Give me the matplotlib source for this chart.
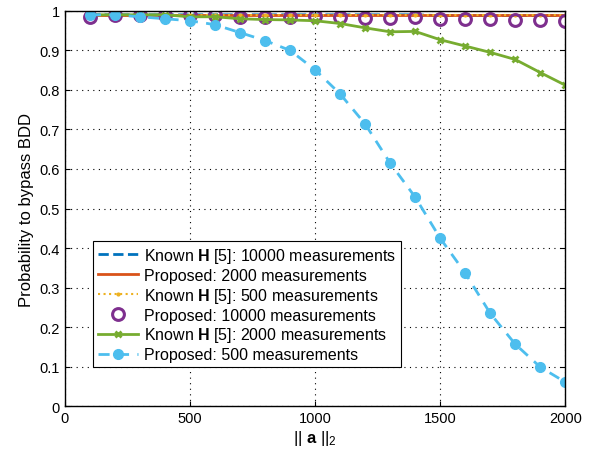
import matplotlib
matplotlib.use("Agg")
import matplotlib.pyplot as plt
import numpy as np

plt.rcParams['font.family'] = ['Liberation Sans', 'DejaVu Sans']
plt.rcParams['mathtext.fontset'] = 'custom'
plt.rcParams['mathtext.rm'] = 'Liberation Sans'
plt.rcParams['mathtext.bf'] = 'Liberation Sans:bold'
plt.rcParams['mathtext.it'] = 'Liberation Sans:italic'

# data
norm_a = [100, 200, 300, 400, 500, 600, 700, 800, 900, 1000,
          1100, 1200, 1300, 1400, 1500, 1600, 1700, 1800, 1900, 2000]
known_10000 = [0.99, 0.99, 0.99, 0.99, 0.99, 0.99, 0.99, 0.99, 0.99, 0.99,
               0.99, 0.99, 0.99, 0.99, 0.988, 0.988, 0.988, 0.988, 0.988, 0.988]
prop_2000 = [0.99, 0.99, 0.99, 0.99, 0.99, 0.99, 0.99, 0.99, 0.99, 0.99,
             0.99, 0.99, 0.99, 0.99, 0.99, 0.99, 0.99, 0.99, 0.99, 0.99]
known_500 = [0.99, 0.99, 0.99, 0.99, 0.99, 0.99, 0.99, 0.99, 0.99, 0.99,
             0.99, 0.99, 0.99, 0.99, 0.99, 0.99, 0.99, 0.99, 0.99, 0.99]
prop_10000 = [0.985, 0.99, 0.99, 0.99, 0.99, 0.99, 0.985, 0.985, 0.985, 0.988,
              0.985, 0.982, 0.982, 0.984, 0.98, 0.98, 0.98, 0.977, 0.977, 0.975]
known_2000 = [0.99, 0.99, 0.99, 0.99, 0.985, 0.985, 0.98, 0.978, 0.977, 0.975,
              0.968, 0.957, 0.947, 0.948, 0.927, 0.911, 0.895, 0.877, 0.844, 0.812]
prop_500 = [0.99, 0.99, 0.985, 0.98, 0.975, 0.965, 0.945, 0.925, 0.90, 0.851,
            0.79, 0.714, 0.615, 0.529, 0.425, 0.337, 0.235, 0.157, 0.099, 0.061]

fig = plt.figure(figsize=(5.95, 4.56), dpi=100)
ax = fig.add_axes([0.109, 0.107, 0.841, 0.867])

ax.plot(norm_a, known_10000, '--', color='#0072BD', lw=2,
        label=r'Known $\mathbf{H}$ [5]: 10000 measurements')
ax.plot(norm_a, prop_2000, '-', color='#D95319', lw=2,
        label='Proposed: 2000 measurements')
ax.plot(norm_a, known_500, ':', color='#EDB120', lw=1.5, marker='.', ms=4,
        label=r'Known $\mathbf{H}$ [5]: 500 measurements')
ax.plot(norm_a, prop_10000, 'o', color='#7E2F8E', mfc='none', mew=2.2, ms=8.5,
        label='Proposed: 10000 measurements')
ax.plot(norm_a, known_2000, '-', color='#77AC30', lw=2, marker='x', mew=2, ms=5,
        label=r'Known $\mathbf{H}$ [5]: 2000 measurements')
ax.plot(norm_a, prop_500, '--', color='#4DBEEE', lw=2, marker='o', ms=7,
        dashes=(4, 3), label='Proposed: 500 measurements')

ax.set_xlim(0, 2000)
ax.set_ylim(0, 1)
ax.set_xticks(np.arange(0, 2001, 500))
ax.set_yticks(np.arange(0, 1.01, 0.1))
ax.set_yticklabels(['0', '0.1', '0.2', '0.3', '0.4', '0.5', '0.6', '0.7', '0.8', '0.9', '1'])
ax.tick_params(direction='in', top=True, right=True, labelsize=10.5)
ax.grid(True, linestyle=(0, (1, 4)), color='k', lw=0.8)
for s in ax.spines.values():
    s.set_linewidth(1)

ax.set_xlabel(r'$||\ \mathbf{a}\ ||_2$', fontsize=12, labelpad=2)
ax.set_ylabel('Probability to bypass BDD', fontsize=12)

leg = ax.legend(loc='lower left', bbox_to_anchor=(0.056, 0.099), fontsize=11.5,
                fancybox=False, edgecolor='k', framealpha=1,
                handlelength=2.5, borderpad=0.3, labelspacing=0.18,
                handletextpad=0.4, borderaxespad=0)
leg.get_frame().set_linewidth(0.8)

fig.savefig('out.png', dpi=100)
